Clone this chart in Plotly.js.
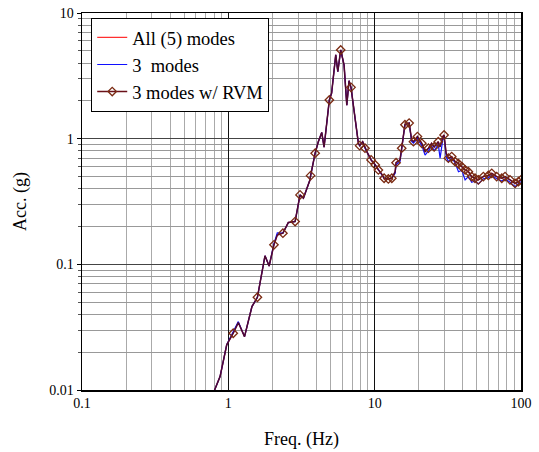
<!DOCTYPE html>
<html>
<head>
<meta charset="utf-8">
<script src="https://cdn.plot.ly/plotly-3.0.1.min.js"></script>
<style>html,body{margin:0;padding:0;background:#fff;}#chart{width:539px;height:452px;}</style>
</head>
<body>
<div id="chart"></div>
<script>
// Frequencies (Hz)
var freq = [0.80, 0.878, 0.975, 1.08, 1.17, 1.29, 1.45, 1.58, 1.78, 1.90, 2.05, 2.16, 2.36, 2.57, 2.86, 3.09, 3.26, 3.61, 3.65, 3.92, 4.12, 4.35, 4.51, 4.90, 5.08, 5.42, 5.60, 5.86, 6.18, 6.45, 6.68, 6.89, 7.74, 7.90, 8.28, 8.59, 8.91, 9.45, 10.1, 10.6, 11.1, 11.6, 12.2, 13.1, 13.8, 14.0, 14.9, 15.3, 16.1, 17.2, 17.9, 18.4, 19.6, 21.0, 22.1, 23.3, 24.5, 25.5, 27.2, 28.0, 29.2, 29.8, 30.8, 31.9, 33.6, 35.5, 37.4, 39.4, 41.5, 43.7, 46.0, 48.5, 51.1, 55.3, 59.8, 63.1, 68.2, 73.9, 77.8, 84.1, 91.1, 96.0, 100];
// All (5) modes
var accAll = [0.0098, 0.0128, 0.0229, 0.0283, 0.0344, 0.0266, 0.0461, 0.0547, 0.117, 0.097, 0.143, 0.171, 0.177, 0.215, 0.219, 0.357, 0.336, 0.469, 0.508, 0.766, 0.946, 1.12, 0.855, 2.03, 2.30, 4.64, 3.41, 5.08, 3.85, 1.85, 2.89, 2.56, 0.919, 0.88, 0.946, 0.84, 0.774, 0.678, 0.618, 0.564, 0.53, 0.484, 0.475, 0.484, 0.546, 0.644, 0.678, 0.84, 1.29, 1.33, 0.976, 0.946, 1.04, 0.919, 0.788, 0.84, 0.919, 0.86, 0.946, 0.86, 1.04, 1.07, 0.766, 0.70, 0.72, 0.656, 0.632, 0.598, 0.564, 0.546, 0.499, 0.484, 0.47, 0.499, 0.51, 0.53, 0.499, 0.484, 0.499, 0.47, 0.44, 0.455, 0.47];
// 3 modes
var acc3 = [0.0098, 0.0128, 0.0229, 0.0290, 0.0350, 0.0266, 0.0461, 0.0547, 0.117, 0.097, 0.146, 0.178, 0.177, 0.215, 0.219, 0.357, 0.336, 0.469, 0.508, 0.766, 0.946, 1.12, 0.855, 2.03, 2.30, 4.64, 3.41, 5.08, 3.85, 1.85, 2.89, 2.56, 0.919, 0.88, 0.946, 0.84, 0.774, 0.678, 0.618, 0.564, 0.53, 0.484, 0.475, 0.484, 0.53, 0.62, 0.66, 0.82, 1.29, 1.33, 0.95, 0.92, 1.00, 0.88, 0.74, 0.80, 0.88, 0.80, 0.90, 0.70, 0.98, 1.04, 0.72, 0.656, 0.70, 0.64, 0.546, 0.56, 0.47, 0.50, 0.45, 0.46, 0.436, 0.48, 0.49, 0.51, 0.48, 0.46, 0.48, 0.45, 0.415, 0.44, 0.455];
// 3 modes w/ RVM
var accRVM = [0.0098, 0.0128, 0.0229, 0.0283, 0.0344, 0.0266, 0.0461, 0.0547, 0.117, 0.097, 0.143, 0.171, 0.177, 0.215, 0.219, 0.357, 0.336, 0.469, 0.508, 0.766, 0.946, 1.12, 0.855, 2.03, 2.30, 4.64, 3.41, 5.08, 3.85, 1.85, 2.89, 2.56, 0.919, 0.88, 0.946, 0.84, 0.774, 0.678, 0.618, 0.564, 0.53, 0.484, 0.475, 0.484, 0.546, 0.644, 0.678, 0.84, 1.29, 1.33, 0.976, 0.946, 1.04, 0.919, 0.788, 0.84, 0.919, 0.86, 0.946, 0.86, 1.04, 1.07, 0.766, 0.70, 0.72, 0.656, 0.632, 0.598, 0.564, 0.546, 0.499, 0.484, 0.47, 0.499, 0.51, 0.53, 0.499, 0.484, 0.499, 0.47, 0.44, 0.455, 0.47];
// RVM marker points
var rvmMarkFreq = [1.08, 1.58, 2.05, 2.36, 2.86, 3.09, 3.65, 3.92, 4.90, 5.86, 6.89, 7.90, 8.59, 9.45, 10.1, 10.6, 11.6, 12.4, 13.1, 14.0, 15.3, 16.1, 17.2, 18.4, 19.6, 21.0, 23.3, 25.5, 27.2, 29.8, 31.9, 33.6, 35.5, 37.4, 39.4, 41.5, 43.7, 46.0, 48.5, 51.1, 55.3, 59.8, 63.1, 68.2, 73.9, 77.8, 84.1, 91.1, 96.0, 100];
var rvmMarkAcc = [0.0283, 0.0547, 0.143, 0.177, 0.219, 0.357, 0.508, 0.766, 2.03, 5.08, 2.56, 0.88, 0.84, 0.678, 0.618, 0.564, 0.484, 0.478, 0.484, 0.644, 0.84, 1.29, 1.33, 0.946, 1.04, 0.919, 0.84, 0.86, 0.946, 1.07, 0.70, 0.72, 0.656, 0.632, 0.598, 0.564, 0.546, 0.499, 0.484, 0.47, 0.499, 0.51, 0.53, 0.499, 0.484, 0.499, 0.47, 0.44, 0.455, 0.47];
var xTickVals = [0.1, 1, 10, 100];
var xTickText = ['0.1', '1', '10', '100'];
var yTickVals = [0.01, 0.1, 1, 10];
var yTickText = ['0.01', '0.1', '1', '10'];

var markColor = '#7a2a12';
var traces = [
  {x: freq, y: accAll, name: 'All (5) modes', mode: 'lines', line: {color: '#ff3030', width: 1.2}},
  {x: freq, y: acc3, name: '3  modes', mode: 'lines', line: {color: '#1010ff', width: 1.2}},
  {x: freq, y: accRVM, name: '3 modes w/ RVM', mode: 'lines', line: {color: '#4e0a30', width: 1.5}, showlegend: false},
  {x: rvmMarkFreq, y: rvmMarkAcc, name: '3 modes w/ RVM', mode: 'markers', showlegend: false,
   marker: {symbol: 'diamond-open', size: 6.5, color: markColor, line: {width: 1.3, color: markColor}}},
  {x: [null], y: [null], name: '3 modes w/ RVM', mode: 'lines+markers', line: {color: '#6a1018', width: 1.5},
   marker: {symbol: 'diamond-open', size: 6.5, color: markColor, line: {width: 1.3, color: markColor}}}
];

var fontFam = '"Liberation Serif", "Times New Roman", serif';
var layout = {
  width: 539, height: 452,
  margin: {l: 82, r: 18, t: 13, b: 62},
  paper_bgcolor: '#fff', plot_bgcolor: '#fff',
  font: {family: fontFam, size: 14, color: '#000'},
  showlegend: true,
  legend: {x: 0.021, y: 0.987, xanchor: 'left', yanchor: 'top', bgcolor: '#fff', bordercolor: '#000', borderwidth: 1,
           font: {family: fontFam, size: 18.5, color: '#000'}, tracegroupgap: 0},
  xaxis: {
    type: 'log', range: [-1, 2], tickvals: xTickVals, ticktext: xTickText,
    showgrid: true, gridcolor: '#111', gridwidth: 1,
    minor: {dtick: 'D1', showgrid: true, gridcolor: '#aaa', gridwidth: 1, ticks: ''},
    showline: true, linecolor: '#000', linewidth: 1.5, mirror: true,
    ticks: '', zeroline: false,
    tickfont: {family: fontFam, size: 14},
    title: {text: 'Freq. (Hz)', font: {family: fontFam, size: 18}, standoff: 22}
  },
  yaxis: {
    type: 'log', range: [-2, 1], tickvals: yTickVals, ticktext: yTickText,
    showgrid: true, gridcolor: '#444', gridwidth: 1.3,
    minor: {dtick: 'D1', showgrid: true, gridcolor: '#999', gridwidth: 1, ticks: 'outside', ticklen: 3, tickcolor: '#555'},
    showline: true, linecolor: '#000', linewidth: 1.5, mirror: true,
    ticks: 'outside', ticklen: 4, tickcolor: '#000', zeroline: false,
    tickfont: {family: fontFam, size: 14},
    title: {text: 'Acc. (g)', font: {family: fontFam, size: 18}, standoff: 18}
  }
};
Plotly.newPlot('chart', traces, layout, {displayModeBar: false, staticPlot: true});
</script>
</body>
</html>
